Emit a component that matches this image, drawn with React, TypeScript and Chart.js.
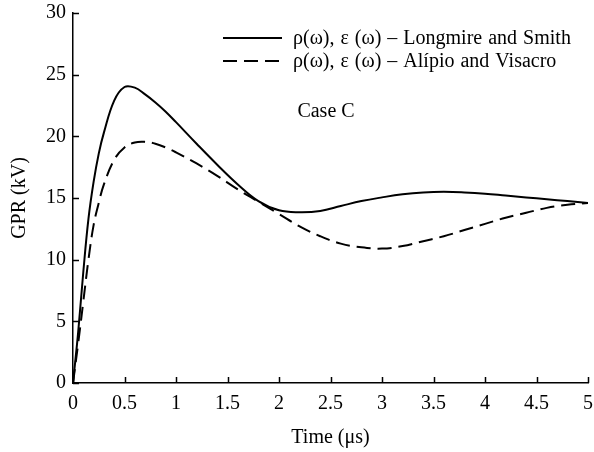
import React, { useEffect, useRef } from "react";
import { Chart, registerables } from "chart.js";

Chart.register(...registerables);

const timeUs = [0, 0.05, 0.1, 0.15, 0.2, 0.25, 0.3, 0.4, 0.5, 0.6, 0.7, 0.8, 0.9, 1.0, 1.2, 1.4, 1.6, 1.8, 2.0, 2.2, 2.4, 2.6, 2.8, 3.0, 3.2, 3.4, 3.6, 3.8, 4.0, 4.2, 4.4, 4.6, 4.8, 5.0];
const longmireSmith = [0, 4.1, 9.0, 13.3, 16.3, 18.6, 20.3, 22.9, 24.0, 23.95, 23.4, 22.75, 22.0, 21.15, 19.4, 17.7, 16.1, 14.75, 14.0, 13.85, 13.95, 14.35, 14.75, 15.05, 15.3, 15.45, 15.5, 15.45, 15.35, 15.2, 15.05, 14.9, 14.75, 14.6];
const alipioVisacro = [0, 3.2, 6.6, 10.0, 12.8, 14.6, 16.1, 18.1, 19.1, 19.5, 19.55, 19.4, 19.1, 18.7, 17.8, 16.8, 15.7, 14.7, 13.7, 12.7, 11.9, 11.3, 11.0, 10.9, 11.1, 11.5, 11.9, 12.4, 12.9, 13.4, 13.8, 14.2, 14.45, 14.6];
const seriesLabels = ["ρ(ω), ε (ω) – Longmire and Smith", "ρ(ω), ε (ω) – Alípio and Visacro"];
const annotationText = "Case C";
const xTitle = "Time (μs)";
const yTitle = "GPR (kV)";

const FONT = "'Liberation Serif', 'Times New Roman', serif";

export default function App() {
  const ref = useRef<HTMLCanvasElement | null>(null);

  useEffect(() => {
    if (!ref.current) return;
    const inwardTicks = {
      id: "inwardTicks",
      afterDraw(chart: any) {
        const ctx = chart.ctx;
        const xs = chart.scales.x;
        const ys = chart.scales.y;
        const area = chart.chartArea;
        ctx.save();
        ctx.strokeStyle = "#000";
        ctx.lineWidth = 1.5;
        ctx.beginPath();
        xs.ticks.forEach((t: any) => {
          const px = Math.round(xs.getPixelForValue(t.value)) + 0.5;
          ctx.moveTo(px, area.bottom);
          ctx.lineTo(px, area.bottom - 6);
        });
        ys.ticks.forEach((t: any) => {
          const py = Math.round(ys.getPixelForValue(t.value)) + 0.5;
          ctx.moveTo(area.left, py);
          ctx.lineTo(area.left + 6, py);
        });
        ctx.stroke();

        // legend
        const ds = chart.data.datasets;
        const rows = [38, 61];
        ctx.font = `20px ${FONT}`;
        try { (ctx as any).wordSpacing = "1px"; } catch (e) {}
        ctx.textBaseline = "middle";
        ctx.textAlign = "left";
        ctx.fillStyle = "#000";
        ds.forEach((d: any, i: number) => {
          ctx.save();
          ctx.lineWidth = 2;
          ctx.setLineDash(d.borderDash || []);
          ctx.beginPath();
          ctx.moveTo(223, rows[i]);
          ctx.lineTo(282, rows[i]);
          ctx.stroke();
          ctx.restore();
          ctx.fillText(d.label, 293, rows[i] + 1);
        });
        (ctx as any).wordSpacing = "0px";
        ctx.textAlign = "center";
        ctx.fillText(annotationText, 326, 112);
        ctx.restore();
      },
    };

    const chart = new Chart(ref.current, {
      type: "line",
      data: {
        datasets: [
          {
            label: seriesLabels[0],
            data: timeUs.map((t, i) => ({ x: t, y: longmireSmith[i] })),
            borderColor: "#000",
            borderWidth: 2,
            pointRadius: 0,
            tension: 0.4,
            fill: false,
          },
          {
            label: seriesLabels[1],
            data: timeUs.map((t, i) => ({ x: t, y: alipioVisacro[i] })),
            borderColor: "#000",
            borderWidth: 2,
            borderDash: [14, 7],
            pointRadius: 0,
            tension: 0.4,
            fill: false,
          },
        ],
      },
      plugins: [inwardTicks],
      options: {
        responsive: false,
        animation: false,
        layout: { padding: { top: 13, right: 6, left: 0, bottom: 0 } },
        plugins: { legend: { display: false }, tooltip: { enabled: false } },
        scales: {
          x: {
            type: "linear",
            min: 0,
            max: 5,
            afterFit: (s: any) => { s.height = 69; s.paddingRight = 0; s.paddingLeft = 0; },
            ticks: { stepSize: 0.5, color: "#000", padding: 9, font: { family: FONT, size: 20 }, maxRotation: 0, callback: (v: any) => String(v) },
            grid: { display: false, drawTicks: false },
            border: { display: true, color: "#000", width: 1.5 },
            title: { display: true, text: xTitle, color: "#000", font: { family: FONT, size: 20 }, padding: { top: 0, bottom: 2 } },
          },
          y: {
            type: "linear",
            min: 0,
            max: 30,
            afterFit: (s: any) => { s.width = 73; s.paddingTop = 0; s.paddingBottom = 0; },
            ticks: { stepSize: 5, color: "#000", padding: 7, font: { family: FONT, size: 20 } },
            grid: { display: false, drawTicks: false },
            border: { display: true, color: "#000", width: 1.5 },
            title: { display: true, text: yTitle, color: "#000", font: { family: FONT, size: 20 }, padding: { top: 8, bottom: 0 } },
          },
        },
      },
    });
    return () => chart.destroy();
  }, []);

  return (
    <div style={{ position: "absolute", left: 0, top: 0, width: 594, height: 452, background: "#fff" }}>
      <canvas ref={ref} width={594} height={452} style={{ display: "block" }} />
    </div>
  );
}
